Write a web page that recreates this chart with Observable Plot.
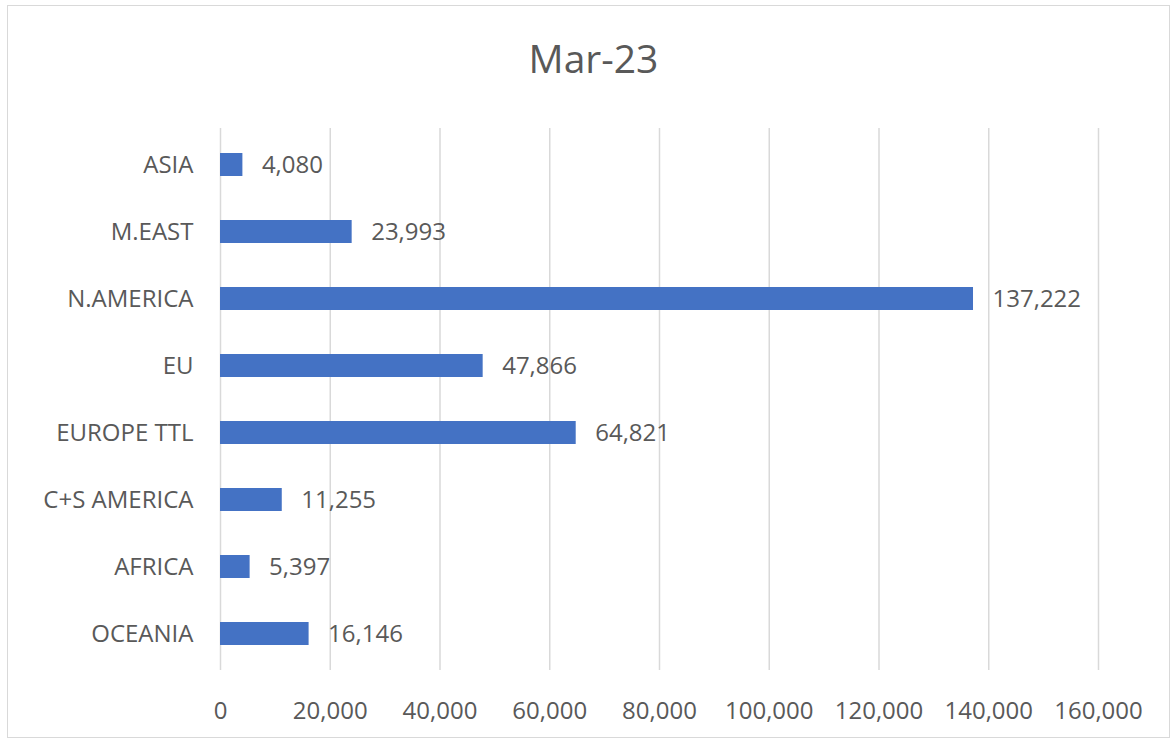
<!DOCTYPE html>
<html><head><meta charset="utf-8">
<script src="https://cdn.jsdelivr.net/npm/d3@7"></script>
<script src="https://cdn.jsdelivr.net/npm/@observablehq/plot@0.6"></script>
<style>
body{margin:0;background:#fff;}
#wrap{position:relative;width:1171px;height:744px;font-family:"Open Sans",sans-serif;overflow:hidden}
#frame{position:absolute;left:7px;top:5px;width:1163px;height:733px;border:1px solid #d9d9d9;box-sizing:border-box}
#title{position:absolute;left:10px;width:1167px;top:38px;text-align:center;font-size:39px;line-height:1;color:#595959}
#chart{position:absolute;left:0;top:0}
</style></head>
<body>
<div id="wrap"><div id="frame"></div><div id="title">Mar-23</div><div id="chart"></div></div>
<script>
const regions = ["ASIA","M.EAST","N.AMERICA","EU","EUROPE TTL","C+S AMERICA","AFRICA","OCEANIA"];
const values = [4080,23993,137222,47866,64821,11255,5397,16146];
const xTicks = [0,20000,40000,60000,80000,100000,120000,140000,160000];
const data = regions.map((r,i)=>({region:r, value:values[i]}));
const fmt = d3.format(",");
const chart = Plot.plot({
  width:1171, height:744,
  marginLeft:220, marginRight:73, marginTop:128, marginBottom:74,
  style:{fontFamily:"Open Sans", fontSize:"24px", color:"#595959", background:"transparent"},
  x:{domain:[0,160000]},
  y:{domain:regions, paddingInner:0.66, paddingOuter:0.33},
  marks:[
    Plot.gridX(xTicks,{stroke:"#d9d9d9", strokeOpacity:1, strokeWidth:1.5}),
    Plot.barX(data,{x:"value", y:"region", fill:"#4472C4"}),
    Plot.text(data,{x:"value", y:"region", text:d=>fmt(d.value), textAnchor:"start", dx:19, fontSize:24, fill:"#595959"}),
    Plot.axisX({ticks:xTicks, tickFormat:fmt, tickSize:0, tickPadding:31, fontSize:24, label:null, fill:"#595959"}),
    Plot.axisY({tickSize:0, tickPadding:27, fontSize:24, label:null, fill:"#595959"})
  ]
});
document.getElementById("chart").appendChild(chart);
</script>
</body></html>
